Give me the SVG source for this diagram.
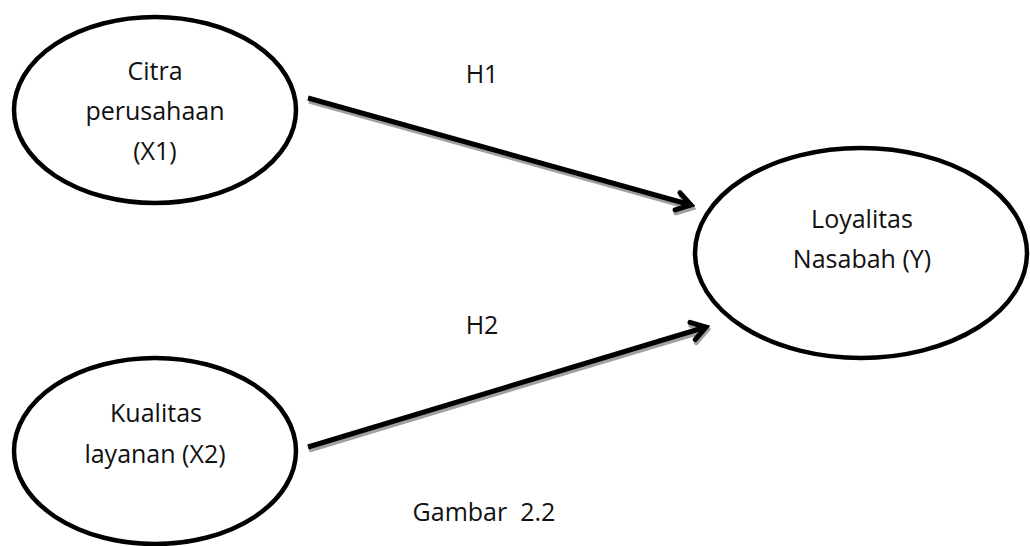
<svg xmlns="http://www.w3.org/2000/svg" width="1030" height="546" viewBox="0 0 1030 546">
<style>
.node{fill:#fff;stroke:#000;stroke-width:4.5}
.t{font-family:"Open Sans","Liberation Sans",sans-serif;font-size:25px;fill:#111;text-anchor:middle}
.edge{stroke:#000;stroke-width:5;fill:none}
.shadow{stroke:#a0a0a0;stroke-width:5;fill:none}
</style>
<defs>
<marker id="ah" viewBox="0 0 24 24" refX="20" refY="12" markerWidth="24" markerHeight="24" markerUnits="userSpaceOnUse" orient="auto">
<path d="M6,3 L20,12 L6,21" fill="none" stroke="#000" stroke-width="5" stroke-linejoin="miter" stroke-linecap="round"/>
</marker>
<marker id="ahs" viewBox="0 0 24 24" refX="20" refY="12" markerWidth="24" markerHeight="24" markerUnits="userSpaceOnUse" orient="auto">
<path d="M6,3 L20,12 L6,21" fill="none" stroke="#a0a0a0" stroke-width="5" stroke-linejoin="miter" stroke-linecap="round"/>
</marker>
</defs>
<rect width="1030" height="546" fill="#fff"/>
<g id="connectors">
<g id="h1">
<line class="shadow" x1="309" y1="101" x2="692" y2="208" marker-end="url(#ahs)"/>
<line class="edge" x1="308" y1="98" x2="691" y2="205" marker-end="url(#ah)"/>
<text class="t" x="482" y="83">H1</text>
</g>
<g id="h2">
<line class="shadow" x1="309" y1="450" x2="707" y2="330" marker-end="url(#ahs)"/>
<line class="edge" x1="308" y1="447" x2="706" y2="327" marker-end="url(#ah)"/>
<text class="t" x="482" y="334">H2</text>
</g>
</g>
<g id="x1">
<ellipse class="node" cx="155" cy="110" rx="141" ry="93"/>
<text class="t" x="155" y="80">Citra</text>
<text class="t" x="155" y="120">perusahaan</text>
<text class="t" x="155" y="160">(X1)</text>
</g>
<g id="y">
<ellipse class="node" cx="861" cy="253" rx="166" ry="105"/>
<text class="t" x="862" y="228">Loyalitas</text>
<text class="t" x="862" y="268">Nasabah (Y)</text>
</g>
<g id="x2">
<ellipse class="node" cx="155" cy="451" rx="141" ry="93"/>
<text class="t" x="156" y="422">Kualitas</text>
<text class="t" x="155" y="463">layanan (X2)</text>
</g>
<text class="t" x="484" y="521" xml:space="preserve">Gambar  2.2</text>
</svg>
